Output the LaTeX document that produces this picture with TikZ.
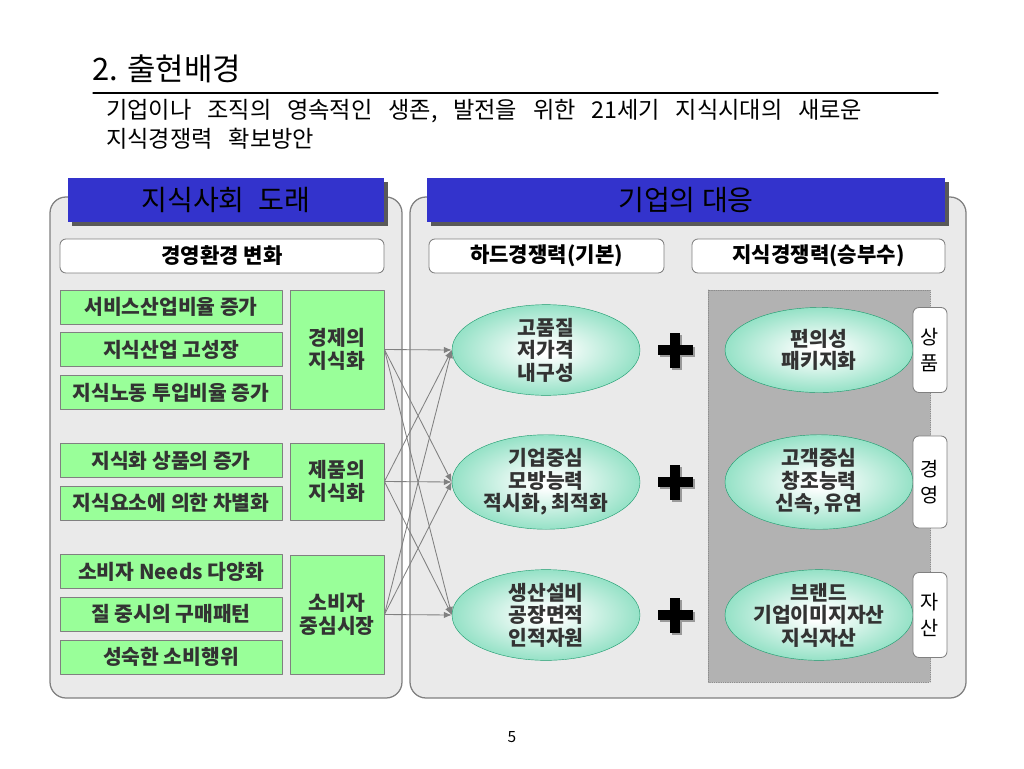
\documentclass[tikz,border=0pt]{standalone}
\usepackage{fontspec}
\setmainfont{Noto Sans CJK KR}
\usetikzlibrary{shapes.geometric,shadows,arrows.meta}
\definecolor{hdblue}{RGB}{51,51,204}
\definecolor{boxgreen}{RGB}{153,255,153}
\definecolor{ellgreen}{RGB}{36,194,138}
\definecolor{panelgray}{RGB}{234,234,234}
\definecolor{zonegray}{RGB}{178,178,178}
\definecolor{linegray}{RGB}{128,128,128}
\pgfdeclareradialshading{ellglow}{\pgfpoint{0bp}{0bp}}{color(0bp)=(white); color(3bp)=(white); color(28bp)=(ellgreen!55!white); color(50bp)=(ellgreen); color(100bp)=(ellgreen)}
\newcommand\widespace{\spaceskip 0.68em\relax}
\tikzset{
  panel/.style={draw=linegray,line width=0.9pt,fill=panelgray,rounded corners=4mm},
  header/.style={fill=hdblue,minimum height=11mm,inner sep=0,font=\fontsize{20}{24}\selectfont,
    drop shadow={shadow xshift=1mm,shadow yshift=-1mm,fill=black!65,opacity=1}},
  subhead/.style={draw=linegray,line width=0.6pt,fill=white,rounded corners=1.5mm,minimum height=8.5mm,
    inner sep=0,font=\bfseries\fontsize{15}{17}\selectfont},
  gbox/.style={draw=linegray,line width=0.6pt,fill=boxgreen,minimum width=55.5mm,minimum height=8.5mm,
    inner sep=0,text=black!80,font=\bfseries\fontsize{14.5}{16}\selectfont},
  gtall/.style={gbox,minimum width=23.5mm,align=center},
  glow/.style={ellipse,shading=ellglow,draw=ellgreen!80!black,line width=0.3pt,minimum width=47mm,
    minimum height=21.25mm,inner sep=0,align=center,text=black!80,font=\bfseries\fontsize{14.5}{16}\selectfont},
  zone/.style={fill=zonegray,draw=black!45,densely dotted,line width=0.6pt},
  tab/.style={draw=linegray,line width=0.6pt,fill=white,rounded corners=1.5mm,minimum width=8.5mm,
    minimum height=21.25mm,inner sep=0,align=center,font=\fontsize{14}{18}\selectfont},
  subline/.style={anchor=west,inner sep=0,font=\fontsize{16.5}{19}\selectfont},
  link/.style={draw=linegray,line width=0.6pt,-{Latex[length=2mm,width=1.6mm]}},
  plussign/.pic={
    \fill[black!40] (-15.5,-3) rectangle (19.5,7);
    \fill[black!40] (-3,-15.5) rectangle (7,19.5);
    \fill[black] (-17.5,-5) rectangle (17.5,5);
    \fill[black] (-5,-17.5) rectangle (5,17.5);
  }
}
\begin{document}
\begin{tikzpicture}[x=0.25mm,y=-0.25mm,line cap=round,line join=round,>=latex]
  \useasboundingbox (0,0) rectangle (1024,768);
  % title
  \node[anchor=west,inner sep=0,font=\fontsize{22}{26}\selectfont] (title) at (92,69) {2. 출현배경};
  \draw[line width=0.8pt] (93,93) -- (938,93);
  \node[subline] (sub1) at (106,111) {\widespace 기업이나 조직의 영속적인 생존, 발전을 위한 21세기 지식시대의 새로운};
  \node[subline] (sub2) at (106,139) {\widespace 지식경쟁력 확보방안};
  % panels
  \draw[panel] (50,197) rectangle (402,698);
  \draw[panel] (410,197) rectangle (966,698);
  \node[header,minimum width=79mm] (hdl) at (226,200) {지식사회\hspace{0.5em}도래};
  \node[header,minimum width=129.5mm] (hdr) at (686,200) {기업의 대응};
  \node[subhead,minimum width=81mm] (envh) at (222,256) {경영환경 변화};
  \node[subhead,minimum width=58.75mm] (hardh) at (546.5,256) {하드경쟁력(기본)};
  \node[subhead,minimum width=63.25mm] (knowh) at (818.5,256) {지식경쟁력(승부수)};
  % left column
  \node[gbox] (gl1) at (171,307) {서비스산업비율 증가};
  \node[gbox] (gl2) at (171,349.5) {지식산업 고성장};
  \node[gbox] (gl3) at (171,392.5) {지식노동 투입비율 증가};
  \node[gbox] (gl4) at (171,460.5) {지식화 상품의 증가};
  \node[gbox] (gl5) at (171,503) {지식요소에 의한 차별화};
  \node[gbox] (gl6) at (171,571.5) {소비자 Needs 다양화};
  \node[gbox] (gl7) at (171,614) {질 중시의 구매패턴};
  \node[gbox] (gl8) at (171,657) {성숙한 소비행위};
  \node[gtall,minimum height=29.75mm] (gr1) at (337,349.5) {경제의\\지식화};
  \node[gtall,minimum height=19.25mm] (gr2) at (337,481.5) {제품의\\지식화};
  \node[gtall,minimum height=29.75mm] (gr3) at (337,614.5) {소비자\\중심시장};
  % right side
  \draw[zone] (708,290) rectangle (930,682);
  \node[glow] (hc1) at (546,350) {고품질\\저가격\\내구성};
  \node[glow,minimum height=23mm] (hc2) at (546,482) {기업중심\\모방능력\\적시화, 최적화};
  \node[glow] (hc3) at (546,615) {생산설비\\공장면적\\인적자원};
  \node[glow] (kc1) at (819,350) {편의성\\패키지화};
  \node[glow,minimum height=23mm] (kc2) at (819,482) {고객중심\\창조능력\\신속, 유연};
  \node[glow] (kc3) at (819,615) {브랜드\\기업이미지자산\\지식자산};
  \node[tab] (tb1) at (930,350) {상\\품};
  \node[tab,minimum height=23mm] (tb2) at (930,482) {경\\영};
  \node[tab] (tb3) at (930,615) {자\\산};
  \pic at (675,350) {plussign};
  \pic at (675,482) {plussign};
  \pic at (675,615) {plussign};
  % links
  \foreach \s in {gr1,gr2,gr3}
    \foreach \t in {hc1,hc2,hc3}
      \draw[link] (\s.east) -- (\t.west);
  \node[font=\fontsize{11}{13}\selectfont] (pgno) at (512,737) {5};
\end{tikzpicture}
\end{document}
